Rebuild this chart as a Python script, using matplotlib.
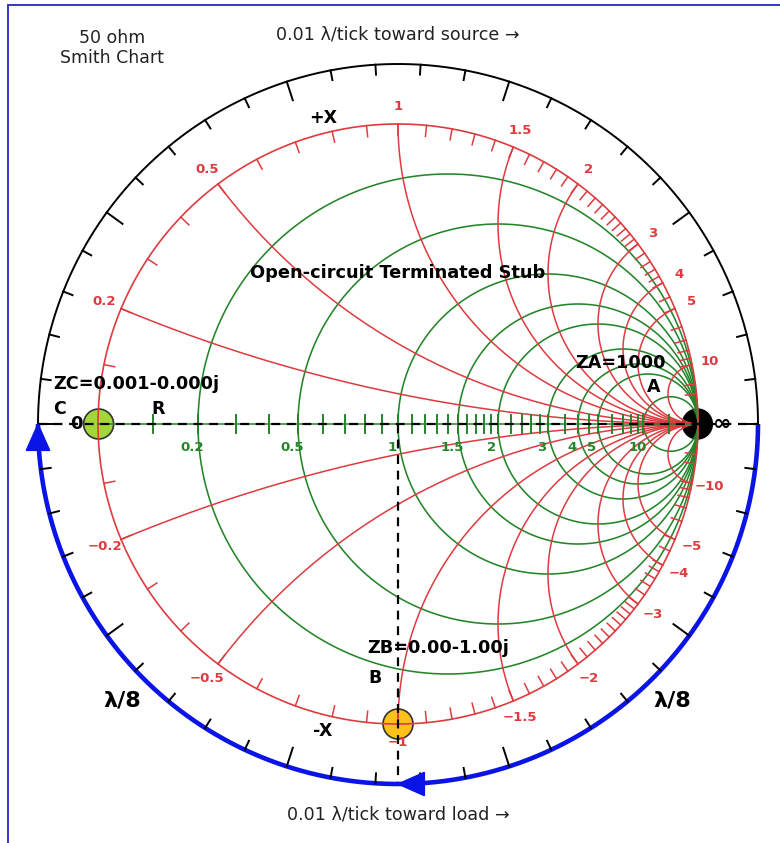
import numpy as np
import matplotlib
matplotlib.use('Agg')
import matplotlib.pyplot as plt
from matplotlib.patches import Circle, Polygon, Rectangle

# ---------------- data ----------------
resistance_circles = [0.2, 0.5, 1, 1.5, 2, 3, 4, 5, 10]
resistance_labels = ['0.2', '0.5', '1', '1.5', '2', '3', '4', '5', '10']
reactance_arcs = [0.2, 0.5, 1, 1.5, 2, 3, 4, 5, 10]
reactance_labels_pos = ['0.2', '0.5', '1', '1.5', '2', '3', '4', '5', '10']
reactance_labels_neg = ['\u22120.2', '\u22120.5', '\u22121', '\u22121.5', '\u22122',
                        '\u22123', '\u22124', '\u22125', '\u221210']
axis_r_ticks = [0.1, 0.2, 0.3, 0.4, 0.5, 0.6, 0.7, 0.8, 0.9, 1.0,
                1.1, 1.2, 1.3, 1.4, 1.5, 1.6, 1.7, 1.8, 1.9, 2.0,
                2.2, 2.4, 2.6, 2.8, 3.0, 3.5, 4.0, 4.5, 5, 6, 7, 8, 9, 10, 20]
rim_x_ticks = [0.1, 0.2, 0.3, 0.4, 0.5, 0.6, 0.7, 0.8, 0.9, 1.0,
               1.1, 1.2, 1.3, 1.4, 1.5, 1.6, 1.7, 1.8, 1.9, 2.0,
               2.1, 2.2, 2.3, 2.4, 2.5, 2.6, 2.7, 2.8, 2.9, 3.0,
               3.2, 3.4, 3.6, 3.8, 4.0, 4.5, 5, 6, 7, 8, 9, 10, 15, 20]
wavelength_per_tick = 0.01
ZA = 1000 + 0j
ZB = 0.0 - 1.0j
ZC = 0.001 - 0.000j
ZA_text = 'ZA=1000'
ZB_text = 'ZB=0.00-1.00j'
ZC_text = 'ZC=0.001-0.000j'

RED = '#dd3b3f'
GREEN = '#24852a'


def gamma(z):
    z = np.asarray(z, dtype=complex)
    return (z - 1) / (z + 1)


fig = plt.figure(figsize=(7.8, 8.43), dpi=100)
ax = fig.add_axes([0, 0, 1, 1])
ax.set_xlim(-398 / 300, 382 / 300)
ax.set_ylim((424 - 843) / 300, 424 / 300)
ax.axis('off')

# blue frame
fig.patches.append(Rectangle((8 / 780, -0.05), 1.2, 1 - 5 / 843 + 0.05,
                             transform=fig.transFigure, fill=False,
                             edgecolor='#3535c8', lw=1.4, clip_on=False))

# outer circle (radius 1.2): black top half, blue bottom half
R_out = 1.2
th = np.linspace(0, np.pi, 400)
ax.plot(R_out * np.cos(th), R_out * np.sin(th), color='black', lw=1.4, zorder=3)
th = np.linspace(np.pi, 2 * np.pi, 400)
ax.plot(R_out * np.cos(th), R_out * np.sin(th), color='#0a14e6', lw=3.3, zorder=4,
        solid_capstyle='butt')

# wavelength ticks: 0.5 lambda around the full circle
n_ticks = int(round(0.5 / wavelength_per_tick))
for k in range(n_ticks):
    a = np.pi - 2 * np.pi * k / n_ticks
    ln = 0.065 if k % 5 == 0 else 0.033
    ax.plot([R_out * np.cos(a), (R_out - ln) * np.cos(a)],
            [R_out * np.sin(a), (R_out - ln) * np.sin(a)],
            color='black', lw=1.4, zorder=5)

# blue arrowheads (clockwise) at 180 and 270 degrees
L, W = 0.088, 0.078
for a in [np.pi, 1.5 * np.pi]:
    tip = np.array([R_out * np.cos(a), R_out * np.sin(a)])
    d = np.array([np.sin(a), -np.cos(a)])
    nrm = np.array([np.cos(a), np.sin(a)])
    base = tip - L * d
    ax.add_patch(Polygon([tip, base + W / 2 * nrm, base - W / 2 * nrm],
                         closed=True, color='#0a14e6', zorder=6))

# markers
ga, gb, gc = gamma(ZA), gamma(ZB), gamma(ZC)
ax.add_patch(Circle((gc.real, gc.imag), 0.05, facecolor='#a3d63a', edgecolor='#333333', lw=1.2, zorder=1))
ax.add_patch(Circle((gb.real, gb.imag), 0.05, facecolor='#fdc21a', edgecolor='#333333', lw=1.2, zorder=1))
ax.add_patch(Circle((ga.real, ga.imag), 0.05, facecolor='black', edgecolor='black', lw=1.0, zorder=1))

# resistance circles (green)
t = np.linspace(0, 2 * np.pi, 600)
for r in resistance_circles:
    c = r / (1 + r)
    rad = 1 / (1 + r)
    ax.plot(c + rad * np.cos(t), rad * np.sin(t), color=GREEN, lw=1.15, zorder=2)

# reactance arcs (red)
rs = np.concatenate([[0.0], np.logspace(-3, 5, 3000)])
for x in reactance_arcs:
    for s in (1, -1):
        g = gamma(rs + 1j * s * x)
        ax.plot(g.real, g.imag, color=RED, lw=1.1, zorder=2)

# unit circle
th = np.linspace(0, 2 * np.pi, 800)
ax.plot(np.cos(th), np.sin(th), color=RED, lw=1.2, zorder=2)

# rim ticks on unit circle
for x in rim_x_ticks:
    for s in (1, -1):
        g = gamma(1j * s * x)
        ax.plot([g.real, 0.963 * g.real], [g.imag, 0.963 * g.imag], color=RED, lw=1.1, zorder=2)

# reactance labels
for x, lp, ln in zip(reactance_arcs, reactance_labels_pos, reactance_labels_neg):
    g = gamma(1j * x)
    ax.text(1.06 * g.real, 1.06 * g.imag, lp, color=RED, fontsize=9.5,
            fontweight='bold', ha='center', va='center', zorder=7)
    g = gamma(-1j * x)
    ax.text(1.06 * g.real, 1.06 * g.imag, ln, color=RED, fontsize=9.5,
            fontweight='bold', ha='center', va='center', zorder=7)

# real axis: green line, green ticks, black dashed line
ax.plot([-1, 1], [0, 0], color=GREEN, lw=1.1, zorder=2)
for r in axis_r_ticks:
    g = gamma(r)
    ax.plot([g.real, g.real], [-0.029, 0.029], color=GREEN, lw=1.4, zorder=2)
for r, lab in zip(resistance_circles, resistance_labels):
    g = gamma(r)
    ax.text(g.real - 0.02, -0.077, lab, color=GREEN, fontsize=9.5,
            fontweight='bold', ha='center', va='center', zorder=7)

ax.plot([-R_out, R_out], [0, 0], color='black', lw=1.6, dashes=(4, 3), zorder=3)
ax.plot([gb.real, gb.real], [0, -R_out], color='black', lw=1.6, dashes=(4, 3), zorder=3)

# texts
bold = dict(fontweight='bold', color='black', zorder=8)
ax.text(-1.073, 0.0, '0', fontsize=13, ha='center', va='center', **bold)
ax.text(1.08, 0.0, '\u221e', fontsize=16, ha='center', va='center', **bold)
ax.text(-0.25, 1.02, '+X', fontsize=12.5, ha='center', va='center', **bold)
ax.text(-0.25, -1.023, '-X', fontsize=12.5, ha='center', va='center', **bold)
ax.text(-1.127, 0.05, 'C', fontsize=12.5, ha='center', va='center', **bold)
ax.text(-0.80, 0.05, 'R', fontsize=12.5, ha='center', va='center', **bold)
ax.text(-1.15, 0.133, ZC_text, fontsize=12.7, ha='left', va='center', **bold)
ax.text(0.743, 0.203, ZA_text, fontsize=12.7, ha='center', va='center', **bold)
ax.text(0.853, 0.123, 'A', fontsize=12.5, ha='center', va='center', **bold)
ax.text(0.133, -0.747, ZB_text, fontsize=12.7, ha='center', va='center', **bold)
ax.text(-0.077, -0.847, 'B', fontsize=12.5, ha='center', va='center', **bold)
ax.text(0.0, 0.503, 'Open-circuit Terminated Stub', fontsize=12.8, ha='center', va='center', **bold)
ax.text(-0.92, -0.92, '\u03bb/8', fontsize=16, ha='center', va='center', **bold)
ax.text(0.913, -0.92, '\u03bb/8', fontsize=16, ha='center', va='center', **bold)

ax.text(-0.953, 1.253, '50 ohm\nSmith Chart', fontsize=12.5, ha='center', va='center',
        color='#222222', linespacing=1.1)
ax.text(0.0, 1.297, '0.01 \u03bb/tick toward source \u2192', fontsize=12.6, ha='center',
        va='center', color='#222222')
ax.text(0.0, -1.303, '0.01 \u03bb/tick toward load \u2192', fontsize=12.6, ha='center',
        va='center', color='#222222')

fig.savefig('out.png', dpi=100)
